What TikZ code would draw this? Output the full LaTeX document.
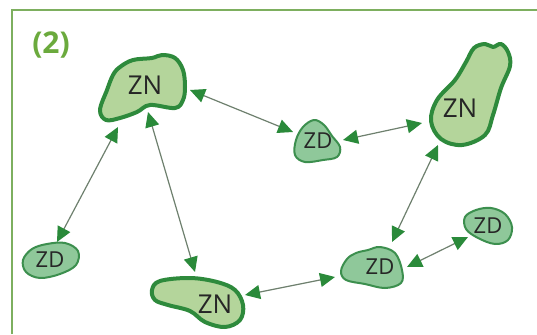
\documentclass[tikz,border=0pt]{standalone}
\usepackage{fontspec}
\setmainfont{Open Sans}
\usetikzlibrary{arrows.meta}
\definecolor{frameGreen}{HTML}{7DAF5F}
\definecolor{labelGreen}{HTML}{6BAA3D}
\definecolor{znFill}{HTML}{B4D59B}
\definecolor{znEdge}{HTML}{2E8A3C}
\definecolor{zdFill}{HTML}{8FC89A}
\definecolor{zdEdge}{HTML}{3C8F4E}
\definecolor{linkGrey}{HTML}{6E806E}
\definecolor{tipGreen}{HTML}{2A8A3A}
\tikzset{
  zn/.style={draw=znEdge, fill=znFill, line width=4pt, line join=round},
  zd/.style={draw=zdEdge, fill=zdFill, line width=2pt, line join=round},
  lbl/.style={text=black!85, font=\fontsize{26}{26}\selectfont, inner sep=0pt},
  lbls/.style={text=black!85, font=\fontsize{22}{22}\selectfont, inner sep=0pt},
  tipA/.tip={Triangle[length=15pt,width=14pt,color=tipGreen]},
  link/.style={draw=linkGrey, line width=1.2pt, tipA-tipA},
}
\begin{document}
\begin{tikzpicture}[x=1pt,y=-1pt]
  \useasboundingbox (0,0) rectangle (537,334);
  \fill[white] (0,0) rectangle (537,334);
  % frame
  \draw[frameGreen, line width=1.6pt] (12,334) -- (12,10) -- (537,10);
  \node[text=labelGreen, font=\bfseries\fontsize{30}{30}\selectfont] (tag) at (51,45) {(2)};

  % zones
  \draw[zn] plot[smooth cycle, tension=0.6] coordinates {(120,67) (133,60) (152,58) (162,55) (175,58) (183,70) (185,87) (183,100) (175,108) (150,105) (137,112) (120,118) (106,120) (100,110) (107,90) (113,75)};
  \node[lbl] (znA) at (145,85) {ZN};

  \draw[zn] plot[smooth cycle, tension=0.6] coordinates {(474,48) (485,44) (493,47) (501,44) (508,52) (510,66) (501,88) (493,115) (485,135) (462,145) (441,139) (431,121) (437,100) (455,80) (466,62)};
  \node[lbl] (znB) at (460,108) {ZN};

  \draw[zn] plot[smooth cycle, tension=0.6] coordinates {(152,290) (160,281) (190,278) (217,282) (235,290) (243,305) (240,320) (225,327) (205,322) (190,311) (168,305) (155,300)};
  \node[lbl] (znC) at (215,304) {ZN};

  \draw[zd] plot[smooth cycle, tension=0.6] coordinates {(314,120) (303,127) (296,140) (295,155) (305,162) (323,160) (337,157) (340,147) (332,136) (324,125)};
  \node[lbls] (zdA) at (318,141) {ZD};

  \draw[zd] plot[smooth cycle, tension=0.6] coordinates {(32,249) (47,244) (65,243) (78,251) (76,265) (60,274) (40,278) (26,272) (23,260)};
  \node[lbls] (zdB) at (50,260) {ZD};

  \draw[zd] plot[smooth cycle, tension=0.6] coordinates {(347,259) (356,253) (368,250) (380,247) (395,253) (402,270) (401,283) (385,288) (365,284) (346,280) (341,271)};
  \node[lbls] (zdC) at (380,267) {ZD};

  \draw[zd] plot[smooth cycle, tension=0.6] coordinates {(465,217) (476,210) (491,208) (505,214) (512,227) (508,240) (495,244) (478,238) (466,229)};
  \node[lbls] (zdD) at (488,226) {ZD};

  % link end points
  \coordinate (a1) at (118,127); \coordinate (a2) at (57,242);
  \coordinate (b1) at (148,112); \coordinate (b2) at (195,272);
  \coordinate (c1) at (190,90);  \coordinate (c2) at (293,132);
  \coordinate (d1) at (343,140); \coordinate (d2) at (422,123);
  \coordinate (e1) at (438,145); \coordinate (e2) at (392,242);
  \coordinate (f1) at (245,295); \coordinate (f2) at (335,277);
  \coordinate (g1) at (407,267); \coordinate (g2) at (468,237);

  % links
  \draw[link] (a1) -- (a2);
  \draw[link] (b1) -- (b2);
  \draw[link] (c1) -- (c2);
  \draw[link] (d1) -- (d2);
  \draw[link] (e1) -- (e2);
  \draw[link] (f1) -- (f2);
  \draw[link] (g1) -- (g2);
\end{tikzpicture}
\end{document}
